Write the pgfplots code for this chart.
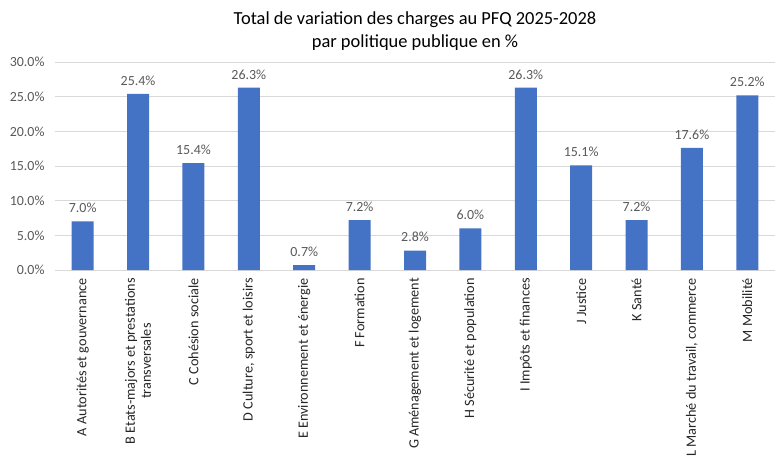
\documentclass[border=0pt]{standalone}
\usepackage{pgfplots}
\pgfplotsset{compat=1.18}
\usepackage{fontspec}
\setmainfont{Carlito}
\definecolor{barblue}{HTML}{4472C4}
\definecolor{txtgrey}{HTML}{595959}
\definecolor{gridgrey}{HTML}{D9D9D9}
\begin{document}
\begin{tikzpicture}
\useasboundingbox (-55bp,-186bp) rectangle (722bp,270bp);
\begin{axis}[
  at={(0,0)}, anchor=south west,
  scale only axis,
  width=720bp, height=208bp,
  ybar, bar width=22bp,
  xmin=-0.5, xmax=12.5,
  ymin=0, ymax=30,
  ytick={0,5,...,30},
  xtick=data,
  xticklabels={A Autorités et gouvernance,
    {B Etats-majors et prestations\\transversales},
    C Cohésion sociale,
    {D Culture, sport et loisirs},
    E Environnement et énergie,
    F Formation,
    G Aménagement et logement,
    H Sécurité et population,
    I Impôts et finances,
    J Justice,
    K Santé,
    {L Marché du travail, commerce},
    M Mobilité},
  xticklabel style={rotate=90, anchor=east, align=center, font=\fontsize{14.3}{16}\selectfont, text=black!85, inner sep=2bp, xshift=-6bp},
  yticklabel={\pgfmathprintnumber[fixed,fixed zerofill,precision=1]{\tick}\%},
  yticklabel style={font=\fontsize{14}{15}\selectfont, text=txtgrey, xshift=-7bp},
  /pgf/number format/assume math mode=true,
  ymajorgrids, grid style={gridgrey, line width=0.8pt},
  axis line style={draw=none},
  major tick length=0,
  title={Total de variation des charges au PFQ 2025-2028\\par politique publique en \%},
  title style={align=center, font=\fontsize{18.5}{23}\selectfont, yshift=2bp},
  nodes near coords={\pgfmathprintnumber[fixed,fixed zerofill,precision=1]{\pgfplotspointmeta}\%},
  nodes near coords style={font=\fontsize{14}{15}\selectfont, text=txtgrey, yshift=5bp},
  point meta=y,
]
\addplot[fill=barblue, draw=none] coordinates {
  (0,7.0) (1,25.4) (2,15.4) (3,26.3) (4,0.7) (5,7.2) (6,2.8)
  (7,6.0) (8,26.3) (9,15.1) (10,7.2) (11,17.6) (12,25.2)};
\end{axis}
\end{tikzpicture}
\end{document}
